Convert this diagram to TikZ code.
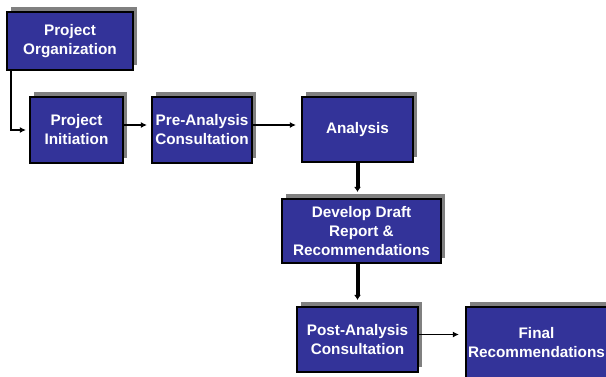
\documentclass[tikz,border=0pt]{standalone}
\usepackage{fontspec}
\setmainfont{Liberation Sans}
\usetikzlibrary{arrows.meta,shadows}
\newlength{\du}
\setlength{\du}{1\unitlength}
\definecolor{boxcolor}{rgb}{0.200000, 0.200000, 0.600000}
\definecolor{shadecolor}{rgb}{0.500000, 0.500000, 0.500000}

\begin{document}
\begin{tikzpicture}[x=1\du,y=-1\du,
  stepbox/.style={draw=black,line width=2.2\du,fill=boxcolor,text=white,
    font=\bfseries\fontsize{15.3}{19}\selectfont,align=center,inner sep=0pt,
    drop shadow={shadow xshift=4\du,shadow yshift=5\du,fill=shadecolor,opacity=1}},
  thinarrow/.style={-{Latex[length=6pt,width=6pt]},line width=1.6\du},
  thickarrow/.style={-{Latex[length=5pt,width=7pt]},line width=4\du}]
\useasboundingbox (0,0) rectangle (606,376);
\clip (0,0) rectangle (606,376);
% boxes
\node[stepbox,minimum width=126\du,minimum height=58\du] (org) at (70,41) {Project\\Organization};
\node[stepbox,minimum width=93\du,minimum height=66\du] (init) at (76.5,130) {Project\\Initiation};
\node[stepbox,minimum width=100\du,minimum height=66\du] (pre) at (202,130) {Pre-Analysis\\Consultation};
\node[stepbox,minimum width=111\du,minimum height=65\du] (analysis) at (357.5,129.5) {Analysis};
\node[stepbox,minimum width=159\du,minimum height=64\du] (draft) at (361.5,231) {Develop Draft\\Report \&\\Recommendations};
\node[stepbox,minimum width=121\du,minimum height=65\du] (post) at (357.5,339.5) {Post-Analysis\\Consultation};
\node[stepbox,minimum width=141\du,minimum height=71\du] (final) at (536.5,342.5) {Final\\Recommendations};
% connectors
\draw[thinarrow,shorten >=3pt] ([xshift=5pt]org.south west) |- (init.west);
\draw[thinarrow,shorten >=4pt] ([yshift=5pt]init.east) coordinate (a) -- (a -| pre.west);
\draw[thinarrow,shorten >=5pt] ([yshift=5pt]pre.east) coordinate (b) -- (b -| analysis.west);
\draw[thickarrow,shorten >=6pt] (analysis.south) -- (analysis.south |- draft.north);
\draw[thickarrow,shorten >=6pt] (post.north |- draft.south) -- (post.north);
\draw[thinarrow,shorten >=6pt] ([yshift=5pt]post.east) coordinate (c) -- (c -| final.west);
\end{tikzpicture}
\end{document}
